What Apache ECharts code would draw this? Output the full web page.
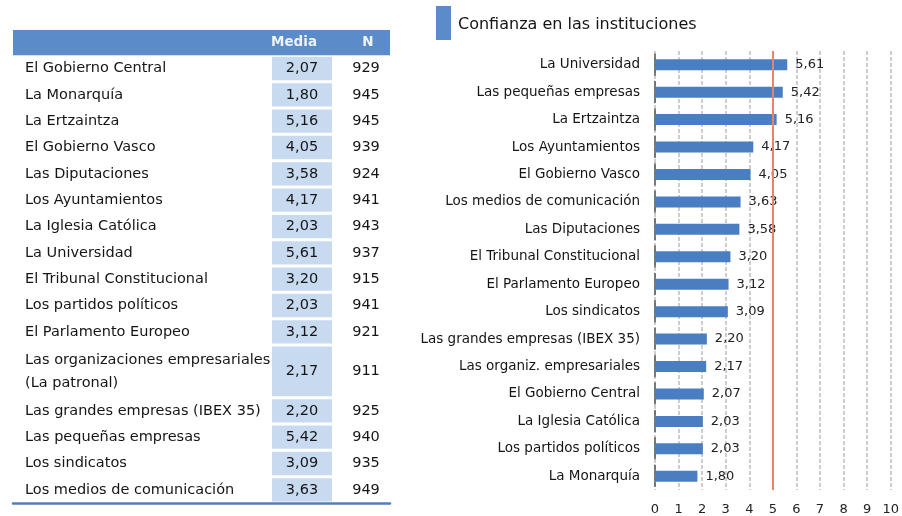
<!DOCTYPE html>
<html>
<head>
<meta charset="utf-8">
<script src="https://cdn.jsdelivr.net/npm/echarts@6/dist/echarts.min.js"></script>
<style>
  html, body { margin: 0; padding: 0; background: #fff; }
  #chart { width: 902px; height: 516px; }
</style>
</head>
<body>
<div id="chart"></div>
<script>
// table (left)
var tableNames = ['El Gobierno Central', 'La Monarquía', 'La Ertzaintza', 'El Gobierno Vasco',
    'Las Diputaciones', 'Los Ayuntamientos', 'La Iglesia Católica', 'La Universidad',
    'El Tribunal Constitucional', 'Los partidos políticos', 'El Parlamento Europeo',
    'Las organizaciones empresariales\n(La patronal)', 'Las grandes empresas (IBEX 35)',
    'Las pequeñas empresas', 'Los sindicatos', 'Los medios de comunicación'];
var tableMedia = [2.07, 1.80, 5.16, 4.05, 3.58, 4.17, 2.03, 5.61, 3.20, 2.03, 3.12, 2.17, 2.20, 5.42, 3.09, 3.63];
var tableN = [929, 945, 945, 939, 924, 941, 943, 937, 915, 941, 921, 911, 925, 940, 935, 949];
var tableHead = ['Media', 'N'];

// bar chart (right)
var chartTitle = 'Confianza en las instituciones';
var chartLabels = ['La Universidad', 'Las pequeñas empresas', 'La Ertzaintza', 'Los Ayuntamientos',
    'El Gobierno Vasco', 'Los medios de comunicación', 'Las Diputaciones', 'El Tribunal Constitucional',
    'El Parlamento Europeo', 'Los sindicatos', 'Las grandes empresas (IBEX 35)', 'Las organiz. empresariales',
    'El Gobierno Central', 'La Iglesia Católica', 'Los partidos políticos', 'La Monarquía'];
var chartValues = [5.61, 5.42, 5.16, 4.17, 4.05, 3.63, 3.58, 3.20, 3.12, 3.09, 2.20, 2.17, 2.07, 2.03, 2.03, 1.80];
var refValue = 5;

var FONT = 'DejaVu Sans';
var INK = '#151515';
var fmt = function (v) { return v.toFixed(2).replace('.', ','); };

// each table row takes one slot per text line
var rows = [];
var slot = 0;
tableNames.forEach(function (name, i) {
    var span = name.split('\n').length;
    rows.push([i, slot, span]);
    slot += span;
});
var totalSlots = slot;

// column layout inside the table grid (px from its left edge)
var COL_NAME = 12, MEDIA_L = 259, MEDIA_R = 319, MEDIA_C = 289, N_C = 353;

function renderRow(params, api) {
    var i = api.value(0), s = api.value(1), span = api.value(2);
    var top = api.coord([0, s])[1];
    var bot = api.coord([0, s + span])[1];
    var x0 = api.coord([0, 0])[0];
    var mid = (top + bot) / 2;
    var font = '14.5px "' + FONT + '"';
    var children = [
        { type: 'rect', shape: { x: x0 + MEDIA_L, y: top + 1.5, width: MEDIA_R - MEDIA_L, height: bot - top - 3 },
          style: { fill: '#c8daf0' } },
        { type: 'text', x: x0 + COL_NAME, y: mid,
          style: { text: tableNames[i], font: font, fill: INK, verticalAlign: 'middle', lineHeight: 23 } },
        { type: 'text', x: x0 + MEDIA_C, y: mid,
          style: { text: fmt(tableMedia[i]), font: font, fill: INK, align: 'center', verticalAlign: 'middle' } },
        { type: 'text', x: x0 + N_C, y: mid,
          style: { text: String(tableN[i]), font: font, fill: INK, align: 'center', verticalAlign: 'middle' } }
    ];
    if (i === 0) {
        var htop = api.coord([0, -1])[1];
        var hw = api.coord([377, 0])[0] - x0;
        children.unshift(
            { type: 'rect', shape: { x: x0, y: htop + 1, width: hw, height: top - htop - 1 },
              style: { fill: '#5b8bc9' } },
            { type: 'text', x: x0 + 281, y: (htop + top) / 2,
              style: { text: tableHead[0], font: 'bold 13.5px "' + FONT + '"', fill: '#eef3fa',
                       align: 'center', verticalAlign: 'middle' } },
            { type: 'text', x: x0 + 355, y: (htop + top) / 2,
              style: { text: tableHead[1], font: 'bold 13.5px "' + FONT + '"', fill: '#eef3fa',
                       align: 'center', verticalAlign: 'middle' } }
        );
    }
    return { type: 'group', children: children };
}

var myChart = echarts.init(document.getElementById('chart'));
var option = {
    backgroundColor: '#fff',
    animation: false,
    textStyle: { fontFamily: FONT },
    title: {
        text: chartTitle,
        left: 453, top: 12,
        textStyle: { fontSize: 16, fontWeight: 'normal', color: INK, fontFamily: FONT }
    },
    graphic: [
        { type: 'rect', left: 436, top: 6, shape: { width: 15, height: 34 }, style: { fill: '#5b8bc9' } }
    ],
    grid: [
        { left: 13, width: 377, top: 29, bottom: 13 },
        { left: 655, right: 7, top: 51, bottom: 26 }
    ],
    xAxis: [
        {
            gridIndex: 0, type: 'value', min: 0, max: 377, position: 'bottom',
            axisLine: { show: true, onZero: false, lineStyle: { color: '#4f7fbe', width: 2.5 } },
            axisTick: { show: false }, axisLabel: { show: false }, splitLine: { show: false }
        },
        {
            gridIndex: 1, type: 'value', min: 0, max: 10, interval: 1,
            axisLine: { show: false }, axisTick: { show: false },
            axisLabel: { fontSize: 13, color: '#222', margin: 13, fontFamily: FONT },
            splitLine: { show: true, lineStyle: { color: '#bdbdbd', type: [4, 2], width: 1.5 } }
        }
    ],
    yAxis: [
        {
            gridIndex: 0, type: 'value', min: -1, max: totalSlots, inverse: true, show: false
        },
        {
            gridIndex: 1, type: 'category', data: chartLabels, inverse: true,
            axisLine: { show: true, lineStyle: { color: '#555', width: 1.5, type: [21, 6.4], dashOffset: 24.2 } },
            axisTick: { show: false },
            axisLabel: { fontSize: 13.5, color: INK, margin: 15, fontFamily: FONT }
        }
    ],
    series: [
        {
            type: 'custom', xAxisIndex: 0, yAxisIndex: 0,
            renderItem: renderRow, data: rows, silent: true
        },
        {
            type: 'bar', xAxisIndex: 1, yAxisIndex: 1,
            data: chartValues, barWidth: 11,
            itemStyle: { color: '#4a7ec2' },
            label: {
                show: true, position: 'right', distance: 8,
                fontSize: 13, color: '#222', fontFamily: FONT,
                formatter: function (p) { return fmt(p.value); }
            },
            markLine: {
                silent: true, symbol: 'none',
                label: { show: false },
                lineStyle: { color: '#e8836b', width: 2, type: 'solid' },
                data: [{ xAxis: refValue }]
            }
        }
    ]
};
myChart.setOption(option);
</script>
</body>
</html>
